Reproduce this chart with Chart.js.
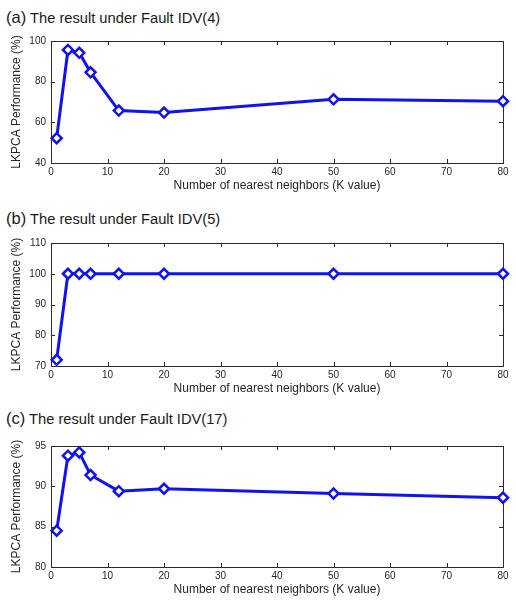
<!DOCTYPE html>
<html>
<head>
<meta charset="utf-8">
<script src="https://cdn.jsdelivr.net/npm/chart.js@4/dist/chart.umd.min.js"></script>
<style>
  html, body { margin: 0; padding: 0; background: #fff; width: 516px; height: 600px; overflow: hidden; }
  body { position: relative; font-family: "Liberation Sans", Arial, Helvetica, sans-serif; color: #1a1a1a; }
  .ptitle { position: absolute; left: 6px; white-space: nowrap; font-size: 14.7px; line-height: 20px; }
  .ptitle .lab { font-size: 16.5px; line-height: 20px; }
  .box { position: absolute; left: 0; width: 516px; }
  .box canvas { display: block; }
</style>
</head>
<body>
<div class="ptitle" id="t0" style="top:6.8px"></div>
<div class="ptitle" id="t1" style="top:207.6px"></div>
<div class="ptitle" id="t2" style="top:408.3px"></div>
<div class="box" style="top:30px;height:170px"><canvas id="c0" width="516" height="170"></canvas></div>
<div class="box" style="top:232px;height:171px"><canvas id="c1" width="516" height="171"></canvas></div>
<div class="box" style="top:435px;height:169px"><canvas id="c2" width="516" height="169"></canvas></div>
<script>
// ---- Data ----
const kValues = [1, 3, 5, 7, 12, 20, 50, 80];
const perfIDV4 = [52.2, 95.6, 94.2, 84.6, 65.8, 64.8, 71.3, 70.4];
const perfIDV5 = [72.0, 100, 100, 100, 100, 100, 100, 100];
const perfIDV17 = [84.5, 93.8, 94.2, 91.4, 89.4, 89.7, 89.1, 88.6];

const panelLabels = ["(a)", "(b)", "(c)"];
const panelTitles = ["The result under Fault IDV(4)", "The result under Fault IDV(5)", "The result under Fault IDV(17)"];
const xTicks = [0, 10, 20, 30, 40, 50, 60, 70, 80];
const yTicksA = [40, 60, 80, 100];
const yTicksB = [70, 80, 90, 100, 110];
const yTicksC = [80, 85, 90, 95];
const xAxisTitle = "Number of nearest neighbors (K value)";
const yAxisTitle = "LKPCA Performance (%)";

// ---- Rendering ----
const series = [perfIDV4, perfIDV5, perfIDV17];
const yTickSets = [yTicksA, yTicksB, yTicksC];

panelLabels.forEach((lab, i) => {
  const el = document.getElementById('t' + i);
  const s1 = document.createElement('span'); s1.className = 'lab'; s1.textContent = lab;
  const s2 = document.createElement('span'); s2.textContent = ' ' + panelTitles[i];
  el.appendChild(s1); el.appendChild(s2);
});

const FONT = "'Liberation Sans', Arial, Helvetica, sans-serif";
const AXIS_COLOR = '#2b2b2b';
const LINE_BLUE = '#1212ee';

const boxPlugin = {
  id: 'matlabBox',
  beforeDatasetsDraw(chart) {
    const { ctx, chartArea: a, scales } = chart;
    ctx.save();
    ctx.strokeStyle = AXIS_COLOR;
    ctx.lineWidth = 1;
    ctx.strokeRect(Math.round(a.left) + 0.5, Math.round(a.top) + 0.5,
                   Math.round(a.right - a.left), Math.round(a.bottom - a.top));
    const tl = 4;
    ctx.beginPath();
    scales.x.ticks.forEach(t => {
      const px = Math.round(scales.x.getPixelForValue(t.value)) + 0.5;
      ctx.moveTo(px, a.bottom); ctx.lineTo(px, a.bottom - tl);
      ctx.moveTo(px, a.top); ctx.lineTo(px, a.top + tl);
    });
    scales.y.ticks.forEach(t => {
      const py = Math.round(scales.y.getPixelForValue(t.value)) + 0.5;
      ctx.moveTo(a.left, py); ctx.lineTo(a.left + tl, py);
      ctx.moveTo(a.right, py); ctx.lineTo(a.right - tl, py);
    });
    ctx.stroke();
    ctx.restore();
  }
};

series.forEach((vals, i) => {
  const yt = yTickSets[i];
  const data = kValues.map((k, j) => ({ x: k, y: vals[j] }));
  new Chart(document.getElementById('c' + i), {
    type: 'line',
    data: {
      datasets: [{
        data,
        borderColor: LINE_BLUE,
        borderWidth: 3,
        pointStyle: 'rectRot',
        pointRadius: 5,
        pointBorderWidth: 2.5,
        pointBackgroundColor: '#ffffff',
        pointBorderColor: LINE_BLUE,
        tension: 0,
        clip: false
      }]
    },
    options: {
      responsive: false,
      animation: false,
      events: [],
      layout: { padding: { top: 5, right: 13, left: 0, bottom: 0 } },
      plugins: { legend: { display: false }, tooltip: { enabled: false }, title: { display: false } },
      scales: {
        x: {
          type: 'linear',
          min: xTicks[0], max: xTicks[xTicks.length - 1],
          afterBuildTicks: s => { s.ticks = xTicks.map(v => ({ value: v })); },
          afterFit: s => { s.height = 37; },
          grid: { display: false, drawTicks: false },
          border: { display: false },
          ticks: { color: '#262626', font: { family: FONT, size: 10 }, padding: 3, maxRotation: 0 },
          title: { display: true, text: xAxisTitle, color: '#262626', font: { family: FONT, size: 12 }, padding: { top: 0, bottom: 7 } }
        },
        y: {
          type: 'linear',
          min: yt[0], max: yt[yt.length - 1],
          afterBuildTicks: s => { s.ticks = yt.map(v => ({ value: v })); },
          afterFit: s => { s.width = 51; },
          grid: { display: false, drawTicks: false },
          border: { display: false },
          ticks: { color: '#262626', font: { family: FONT, size: 10 }, padding: 5 },
          title: { display: true, text: yAxisTitle, color: '#262626', font: { family: FONT, size: 12 }, padding: { top: 9, bottom: 0 } }
        }
      }
    },
    plugins: [boxPlugin]
  });
});
</script>
</body>
</html>
